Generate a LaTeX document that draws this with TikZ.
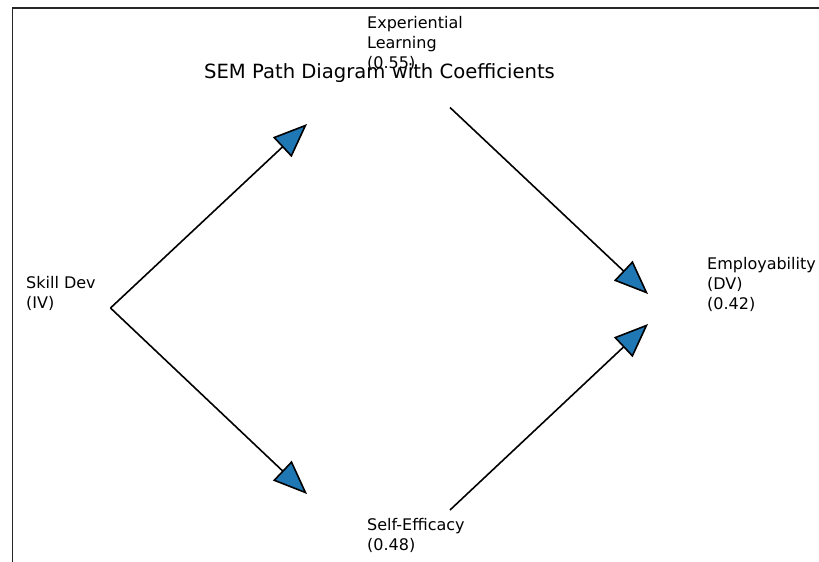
\documentclass[tikz,border=0pt]{standalone}
\usepackage{fontspec}
\setmainfont{DejaVu Sans}
\usetikzlibrary{arrows.meta}
\definecolor{mplblue}{HTML}{1F77B4}

\begin{document}
\begin{tikzpicture}[x=1pt,y=-1pt,
    varlabel/.style={anchor=west,align=left,inner sep=0pt,font=\fontsize{16}{20}\selectfont},
    semarrow/.style={line width=1.6pt,-{Triangle[length=34pt,width=27pt,fill=mplblue]}}]
    \useasboundingbox (0,0) rectangle (819,562);
    % axes frame (left and top spines)
    \draw[line width=1.2pt,black!85] (12.5,562) -- (12.5,8) -- (819,8);
    % variables
    \node[varlabel] (skill) at (26,293.5) {Skill Dev\\(IV)};
    \node[varlabel] (expl) at (367,43) {Experiential\\Learning\\(0.55)};
    \node[varlabel] (selfeff) at (367,535) {Self-Efficacy\\(0.48)};
    \node[varlabel] (employ) at (707,284) {Employability\\(DV)\\(0.42)};
    \node[anchor=base,inner sep=0pt,font=\fontsize{19.6}{24}\selectfont] (title) at (379.5,78.5) {SEM Path Diagram with Coefficients};
    % path ends
    \coordinate (skill-out) at (110.5,308);
    \coordinate (expl-in) at (307,124);
    \coordinate (expl-out) at (450,107.5);
    \coordinate (self-in) at (307,494);
    \coordinate (self-out) at (450,510);
    \coordinate (employ-in-a) at (648,294);
    \coordinate (employ-in-b) at (648,324);
    \foreach \from/\to in {skill-out/expl-in,skill-out/self-in,expl-out/employ-in-a,self-out/employ-in-b}
        \draw[semarrow] (\from) -- (\to);
\end{tikzpicture}
\end{document}
